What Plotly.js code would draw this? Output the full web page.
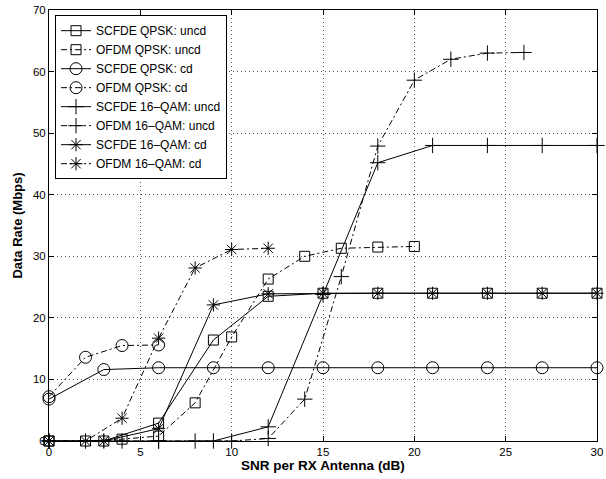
<!DOCTYPE html>
<html>
<head>
<meta charset="utf-8">
<script src="https://cdn.plot.ly/plotly-3.0.1.min.js"></script>
<style>html,body{margin:0;padding:0;background:#fff;}#chart{width:606px;height:479px;}</style>
</head>
<body>
<div id="chart"></div>
<script>
// ---- data ----
const xScfde = [0, 3, 6, 9, 12, 15, 18, 21, 24, 27, 30];
const scfdeQpskUncd = [0, 0, 2.9, 16.4, 23.5, 24, 24, 24, 24, 24, 24];
const scfdeQpskCd = [6.8, 11.6, 11.9, 11.9, 11.9, 11.9, 11.9, 11.9, 11.9, 11.9, 11.9];
const scfde16Uncd = [0, 0, 0, 0, 2.3, 23.8, 45.2, 48, 48, 48, 48];
const scfde16Cd = [0, 0, 2.0, 22.1, 23.9, 24, 24, 24, 24, 24, 24];

const xOfdmQpskUncd = [0, 2, 4, 6, 8, 10, 12, 14, 16, 18, 20];
const ofdmQpskUncd = [0, 0, 0.3, 0.8, 6.2, 16.9, 26.3, 30.0, 31.3, 31.5, 31.6];
const xOfdmQpskCd = [0, 2, 4, 6];
const ofdmQpskCd = [7.2, 13.6, 15.5, 15.6];
const xOfdm16Uncd = [0, 2, 4, 6, 8, 10, 12, 14, 16, 18, 20, 22, 24, 26];
const ofdm16Uncd = [0, 0, 0, 0, 0, 0, 0.4, 6.8, 26.7, 47.9, 58.6, 62.0, 63.0, 63.1];
const xOfdm16Cd = [0, 2, 4, 6, 8, 10, 12];
const ofdm16Cd = [0, 0, 3.7, 16.7, 28.1, 31.1, 31.3];

const seriesNames = ['SCFDE QPSK: uncd', 'OFDM QPSK: uncd', 'SCFDE QPSK: cd', 'OFDM QPSK: cd',
  'SCFDE 16\u2013QAM: uncd', 'OFDM 16\u2013QAM: uncd', 'SCFDE 16\u2013QAM: cd', 'OFDM 16\u2013QAM: cd'];
const xTicks = [0, 5, 10, 15, 20, 25, 30];
const yTicks = [0, 10, 20, 30, 40, 50, 60, 70];

// ---- styles ----
const DASHDOT = '6px,3px,2px,3px';
function tr(name, x, y, dash, symbol, size) {
  return {
    type: 'scatter', mode: 'lines+markers', name: name, x: x, y: y,
    cliponaxis: false,
    line: {color: 'black', width: 1, dash: dash},
    marker: {symbol: symbol, size: size, color: 'black', line: {color: 'black', width: 1}}
  };
}
const data = [
  tr(seriesNames[0], xScfde, scfdeQpskUncd, 'solid', 'square-open', 10),
  tr(seriesNames[1], xOfdmQpskUncd, ofdmQpskUncd, DASHDOT, 'square-open', 10),
  tr(seriesNames[2], xScfde, scfdeQpskCd, 'solid', 'circle-open', 12),
  tr(seriesNames[3], xOfdmQpskCd, ofdmQpskCd, DASHDOT, 'circle-open', 12),
  tr(seriesNames[4], xScfde, scfde16Uncd, 'solid', 'cross-thin-open', 11),
  tr(seriesNames[5], xOfdm16Uncd, ofdm16Uncd, DASHDOT, 'cross-thin-open', 11),
  tr(seriesNames[6], xScfde, scfde16Cd, 'solid', 'asterisk-open', 11),
  tr(seriesNames[7], xOfdm16Cd, ofdm16Cd, DASHDOT, 'asterisk-open', 11)
];

const FONT = 'Liberation Sans, Arial, Helvetica, sans-serif';
const axisCommon = {
  showline: true, linecolor: 'black', linewidth: 1, mirror: 'ticks',
  ticks: 'inside', ticklen: 5, tickcolor: 'black', tickwidth: 1,
  showgrid: true, gridcolor: '#555', gridwidth: 1, griddash: '1px,3px',
  zeroline: false, tickfont: {family: FONT, size: 11.5, color: 'black'}
};
const layout = {
  width: 606, height: 479,
  margin: {l: 49, r: 9, t: 10, b: 38, pad: 0},
  paper_bgcolor: 'white', plot_bgcolor: 'white',
  font: {family: FONT, size: 12, color: 'black'},
  showlegend: true,
  legend: {
    x: 0.011, y: 0.988, xanchor: 'left', yanchor: 'top',
    bgcolor: 'white', bordercolor: 'black', borderwidth: 1,
    font: {family: FONT, size: 12, color: 'black'},
    tracegroupgap: 0, itemwidth: 30
  },
  xaxis: Object.assign({}, axisCommon, {
    range: [0, 30], tickmode: 'array', tickvals: xTicks, ticktext: xTicks.map(String),
    title: {text: '<b>SNR per RX Antenna (dB)</b>', font: {family: FONT, size: 13.5, color: 'black'}, standoff: 3}
  }),
  yaxis: Object.assign({}, axisCommon, {
    range: [0, 70], tickmode: 'array', tickvals: yTicks, ticktext: yTicks.map(String),
    title: {text: '<b>Data Rate (Mbps)</b>', font: {family: FONT, size: 13, color: 'black'}, standoff: 7}
  })
};
Plotly.newPlot('chart', data, layout, {displayModeBar: false, staticPlot: true});
</script>
</body>
</html>
